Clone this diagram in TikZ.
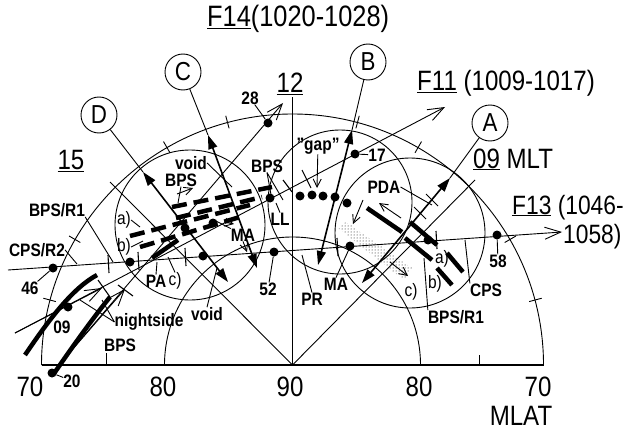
\documentclass[tikz,border=0pt]{standalone}
\usepackage{fontspec}
\setmainfont{Liberation Sans}[FakeStretch=0.86]
\usetikzlibrary{arrows.meta,patterns}
\begin{document}
\begin{tikzpicture}[x=1pt,y=-1pt,
  thinl/.style={line width=0.9pt},
  trk/.style={line width=1.6pt},
  both tip/.style={{Triangle[length=14pt,width=9pt]}-{Triangle[length=14pt,width=9pt]}},
  open tip/.style={-{Straight Barb[length=16pt,width=12pt]}},
  small tip/.style={-{Straight Barb[length=8pt,width=8pt]}},
  big/.style={font=\fontsize{28}{28}\selectfont, inner sep=0pt},
  lab/.style={font=\fontsize{18}{18}\selectfont\bfseries, inner sep=0pt},
  reg/.style={font=\fontsize{18}{18}\selectfont, inner sep=0pt},
  circlab/.style={draw, circle, line width=0.9pt, minimum size=36pt, inner sep=0pt, font=\fontsize{26}{26}\selectfont},
  dotm/.style={circle, fill, minimum size=9pt, inner sep=0pt},
  thick seg/.style={line width=4.5pt},
  dash row/.style={line width=4.5pt, dash pattern=on 15pt off 7pt},
  tick/.style={line width=1.1pt}
]
\useasboundingbox (0,0) rectangle (628,433);
\coordinate (O) at (292.5,365);
% frame
\draw[line width=1.3pt] (41.5,365) -- (543.5,365);
\draw[thinl] (543.5,365) arc[start angle=0,end angle=-180,radius=251];
\draw[thinl] (420.5,365) arc[start angle=0,end angle=-180,radius=128];
\foreach \a in {-15,-30,-60,-75,-105,-120,-150,-165} \draw[thinl] (O) ++(\a:245) -- ++(\a:13);
\draw[thinl] (106,365) -- (106,353);
\draw[thinl] (479,365) -- (479,355);
% radial lines
\coordinate (L15) at (110,182);
\coordinate (L09) at (475,180);
\coordinate (L12) at (292.5,97);
\draw[thinl] (O) -- (L15);
\draw[thinl] (O) -- (L09);
\draw[thinl] (O) -- (L12);
% circles
\draw[thinl] (190,225) circle[radius=75];
\draw[thinl] (340,202) circle[radius=72];
\draw[thinl] (410,233) circle[radius=75];
% stipple band
\fill[pattern=dots] (338,228) -- (346,222) -- (412,268) -- (404,280) -- cycle;
% axis labels
\node[big] (t70l) at (30,387) {70};
\node[big] (t80l) at (163,387) {80};
\node[big] (t90) at (290,387) {90};
\node[big] (t80r) at (419,387) {80};
\node[big] (t70r) at (538,387) {70};
\node[big] (tmlat) at (521,416) {MLAT};
\node[big,font=\fontsize{29.5}{29.5}\selectfont,anchor=base west] (tF14) at (207,27) {\underline{F14}(1020-1028)};
\node[big,anchor=base west] (tF11) at (417,91) {\underline{F11} (1009-1017)};
\node[big,anchor=base west] (t09) at (473,168) {\underline{09} MLT};
\node[big,font=\fontsize{26.5}{26.5}\selectfont,anchor=base west] (tF13) at (512,214) {\underline{F13} (1046-};
\node[big,font=\fontsize{26.5}{26.5}\selectfont,anchor=base west] (tF13b) at (563,243) {1058)};
\node[big] (t12) at (290,84) {\underline{12}};
\node[big] (t15) at (71,161) {\underline{15}};
% circled letters
\node[circlab] (cD) at (99,115) {D};
\node[circlab] (cC) at (183,72) {C};
\node[circlab] (cB) at (368,62) {B};
\node[circlab] (cA) at (490,123) {A};
% A-D tracks
\coordinate (D1) at (143,172); \coordinate (D2) at (228,282);
\coordinate (C1) at (208,135); \coordinate (C2) at (257,268);
\coordinate (B1) at (352,130); \coordinate (B2) at (318,265);
\coordinate (A1) at (450,178); \coordinate (A2) at (362,283);
\draw[thinl] (cD) -- (D1);
\draw[thinl] (cC) -- (C1);
\draw[thinl] (cB) -- (B1);
\draw[thinl] (cA) -- (A1);
\draw[trk,both tip] (D1) -- (D2);
\draw[trk,both tip] (C1) -- (C2);
\draw[trk,both tip] (B1) -- (B2);
\draw[trk,both tip] (A1) -- (A2);
% ticks on A track
\draw[thinl] (426,194) -- (438,206);
\draw[thinl] (414,207) -- (426,219);
% satellite tracks
\coordinate (F13s) at (8,270); \coordinate (F13e) at (562,232);
\draw[thinl,open tip] (F13s) -- (F13e);
\coordinate (F11s) at (15,333); \coordinate (F11e) at (445,107);
\draw[thinl,open tip] (F11s) -- (F11e);
\coordinate (F11m) at (102,288);
\draw[thinl,open tip] (F11s) -- (F11m);
\coordinate (F14e) at (283,103);
\node[dotm] (d20) at (52,373) {};
\node[dotm] (d28) at (268,123) {};
\draw[thinl,open tip] (d20) -- (F14e);
\coordinate (F14m) at (125,289);
\draw[thinl,open tip] (d20) -- (F14m);
% ticks on F13
\foreach \x/\y in {108/264, 138/261, 185/257, 337/247, 436/240} \draw[tick] (\x,\y-9) -- (\x+1,\y+9);
% ticks on F11 / F14
\draw[tick] (98,280) -- (110,297);
\draw[tick] (118,285) -- (133,296);
\draw[tick] (283,180) -- (292,192);
\draw[tick] (302,170) -- (311,188);
% dots on F13
\node[dotm] (d46) at (53,268) {};
\node[dotm] (dF13b) at (130,262) {};
\node[dotm] (dF13c) at (203,256) {};
\node[dotm] (d52) at (274,252) {};
\node[dotm] (dF13e) at (350,246) {};
\node[dotm] (dF13f) at (428,240) {};
\node[dotm] (d58) at (497,235) {};
% dots on F11 and F14
\node[dotm] (d09) at (68,307) {};
\node[dotm] (d17) at (355,154) {};
\node[dotm] (dF14b) at (185,228) {};
\node[dotm] (dF14c) at (213,223) {};
% gap dots
\foreach \p [count=\i] in {(270,198),(300,196),(312,195),(323,196),(335,197),(347,203)} \node[dotm] (g\i) at \p {};
% nightside thick arcs
\draw[thick seg] (25,355) .. controls (50,318) and (73,288) .. (97,275);
\draw[thick seg] (53,375) .. controls (77,340) and (97,313) .. (110,297);
% thick dashed rows (approximate)
\draw[dash row] (172,207) -- (272,187);
\draw[dash row] (176,218) -- (262,197);
\draw[dash row] (130,236) -- (250,205);
\draw[dash row] (140,247) -- (240,217);
\draw[thick seg] (152,258) -- (178,240);
% right thick bars
\draw[thick seg] (367,208) -- (402,232);
\draw[thick seg] (410,222) -- (437,245);
\draw[thick seg] (405,238) -- (432,260);
\draw[thick seg] (447,253) -- (463,272);
\draw[thick seg] (437,268) -- (452,285);
% small open arrows
\draw[thinl,small tip] (363,200) -- (353,224);
\draw[thinl,small tip] (401,218) -- (379,203);
\draw[thinl,small tip] (390,262) -- (408,276);
\draw[thinl,small tip] (177,194) -- (193,188);
\draw[thinl,small tip] (224,222) -- (234,224);
% labels
\node[lab] (l28) at (250,98) {28};
\node[lab] (l17) at (377,155) {17};
\node[lab] (l46) at (30,288) {46};
\node[lab] (l09) at (62,327) {09};
\node[lab] (l20) at (72,381) {20};
\node[lab] (l52) at (268,289) {52};
\node[lab] (l58) at (498,261) {58};
\node[lab] (lgap) at (318,146) {"gap"};
\node[lab] (lBPS2) at (267,166) {BPS};
\node[lab] (lLL) at (280,219) {LL};
\node[lab] (lPDA) at (384,187) {PDA};
\node[lab] (lMA1) at (243,235) {MA};
\node[lab] (lMA2) at (336,284) {MA};
\node[lab] (lPR) at (312,299) {PR};
\node[lab] (lCPS) at (486,290) {CPS};
\node[lab] (lBPSR1r) at (456,317) {BPS/R1};
\node[reg] (la2) at (442,259) {a)};
\node[reg] (lb2) at (435,284) {b)};
\node[reg] (lc2) at (411,292) {c)};
\node[lab] (lvoid1) at (191,163) {void};
\node[lab] (lBPS1) at (181,180) {BPS};
\node[reg] (la1) at (124,220) {a)};
\node[reg] (lb1) at (124,247) {b)};
\node[lab] (lPA) at (156,281) {PA};
\node[reg] (lc1) at (175,281) {c)};
\node[lab] (lvoid2) at (207,314) {void};
\node[lab] (lnight) at (149,322) {nightside};
\node[lab] (lBPS3) at (120,345) {BPS};
\node[lab] (lCPSR2) at (37,250) {CPS/R2};
\node[lab] (lBPSR1l) at (57,210) {BPS/R1};
% leaders
\draw[thinl] (l28) -- (d28);
\draw[thinl] (l17) -- (d17);
\draw[thinl] (l46) -- (d46);
\draw[thinl] (l20) -- (d20);
\draw[thinl] (l52) -- (d52);
\draw[thinl] (l58) -- (d58);
\coordinate (gapT) at (317,188);
\draw[thinl,small tip] (lgap) -- (gapT);
\coordinate (kCPSR2) at (77,264);
\draw[thinl] (lCPSR2.east) -- (kCPSR2);
\coordinate (kBPSR1l) at (113,262);
\draw[thinl] (lBPSR1l.south east) -- (kBPSR1l);
\coordinate (kN1) at (80,300); \coordinate (kN2) at (102,300);
\draw[thinl] (lnight.west) -- (kN1);
\draw[thinl] (lnight.west) -- (kN2);
\coordinate (kBPS2a) at (283,200); \coordinate (kBPS2b) at (272,200);
\draw[thinl] (lBPS2.south) -- (kBPS2a);
\draw[thinl] (lBPS2.south) -- (kBPS2b);
\coordinate (kLL) at (276,203);
\draw[thinl] (lLL.north) -- (kLL);
\coordinate (kPDA) at (432,205);
\draw[thinl] (lPDA.east) -- (kPDA);
\coordinate (kMA2) at (350,247);
\draw[thinl] (lMA2.north) -- (kMA2);
\coordinate (kPR) at (302,255);
\draw[thinl] (lPR.north) -- (kPR);
\coordinate (kCPS) at (465,240);
\draw[thinl] (lCPS.north west) -- (kCPS);
\coordinate (kBPSR1r) at (424,258);
\draw[thinl] (lBPSR1r.north west) -- (kBPSR1r);
\coordinate (kvoid2) at (217,268);
\draw[thinl] (lvoid2.north) -- (kvoid2);
\coordinate (kMA1) at (214,220);
\draw[thinl] (lMA1.north west) -- (kMA1);
\coordinate (kMA1b) at (247,252);
\draw[thinl,small tip] (lMA1.south) -- (kMA1b);
\coordinate (ka1) at (140,227);
\draw[thinl] (la1.east) -- (ka1);
\coordinate (kb1) at (143,241);
\draw[thinl] (lb1.east) -- (kb1);
\coordinate (kPA) at (157,262);
\draw[thinl] (lPA.north) -- (kPA);
\coordinate (kc1) at (168,257);
\draw[thinl] (lc1.north) -- (kc1);
\coordinate (kBPS1) at (178,203);
\draw[thinl] (lBPS1.south) -- (kBPS1);
\coordinate (kvoid1) at (232,187);
\draw[thinl] (lvoid1.east) -- (kvoid1);
\end{tikzpicture}
\end{document}
